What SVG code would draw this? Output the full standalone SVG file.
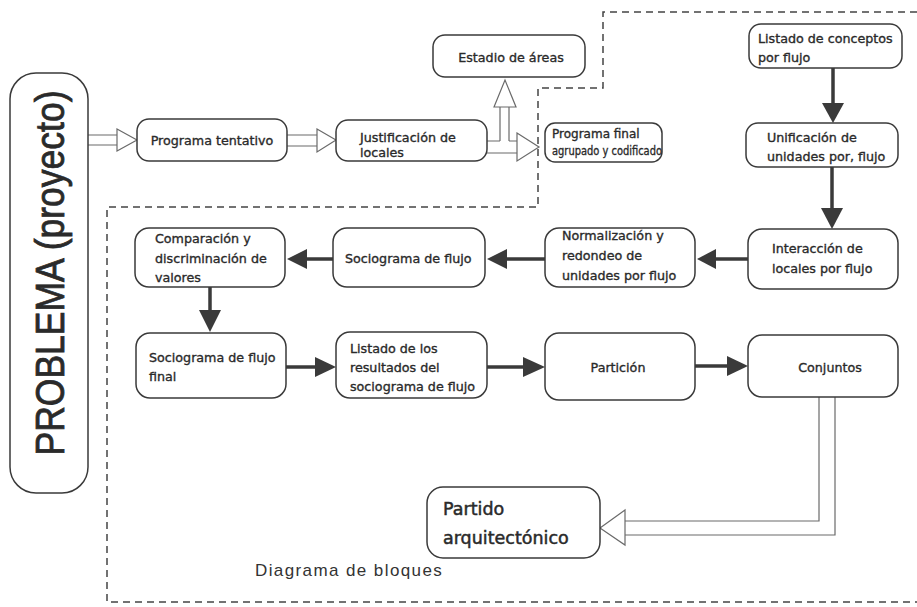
<svg xmlns="http://www.w3.org/2000/svg" width="917" height="607" viewBox="0 0 917 607">
<style>
.box{fill:#fff;stroke:#3a3a3a;stroke-width:1.5}
.t{font-family:"DejaVu Sans",Verdana,sans-serif;font-size:12.7px;fill:#2a2a2a;stroke:#2a2a2a;stroke-width:0.35}
.tc{text-anchor:middle}
.big{font-size:17.5px;stroke-width:0.5}
.sm{font-size:12px}
.sh{stroke:#3a3a3a;stroke-width:3.5;fill:none}
.hd{fill:#3a3a3a;stroke:none}
.hl{stroke:#6a6a6a;stroke-width:1.2;fill:none}
.hh{fill:#fff;stroke:#6a6a6a;stroke-width:1.2}
.dash{fill:none;stroke:#444;stroke-width:1.5;stroke-dasharray:7 5}
</style>
<rect width="917" height="607" fill="#fff"/>
<g id="boundary">
<path class="dash" d="M917,12 H603 V88 H538 V207 H107 V602 H917"/>
</g>
<g id="connectors">
<path class="hl" d="M88,135 H117 M88,145 H117"/>
<polygon class="hh" points="117,129 137,140 117,151"/>
<path class="hl" d="M287,135 H317 M287,146 H317"/>
<polygon class="hh" points="317,129 336,140 317,152"/>
<path class="hl" d="M487,141 H500 M509,141 H517 M487,153 H517 M500,141 V107 M509,141 V107"/>
<polygon class="hh" points="517,133 539,147 517,161"/>
<polygon class="hh" points="494,107 505,80 516,107"/>
<path class="hl" d="M819,397 V521 H625 M835,397 V535 H625"/>
<polygon class="hh" points="625,510 600,528 625,545"/>
<path class="sh" d="M833,68 V105"/>
<polygon class="hd" points="822,103 844,103 833,123"/>
<path class="sh" d="M832,167 V210"/>
<polygon class="hd" points="821,208 843,208 832,229"/>
<path class="sh" d="M748,259 H714"/>
<polygon class="hd" points="716,249 716,269 697,259"/>
<path class="sh" d="M545,259 H505"/>
<polygon class="hd" points="507,249 507,269 487,259"/>
<path class="sh" d="M333,259 H305"/>
<polygon class="hd" points="307,249 307,269 287,259"/>
<path class="sh" d="M210,287 V312"/>
<polygon class="hd" points="199,310 221,310 210,332"/>
<path class="sh" d="M286,367 H317"/>
<polygon class="hd" points="315,357 315,377 336,367"/>
<path class="sh" d="M487,367 H525"/>
<polygon class="hd" points="523,357 523,377 545,367"/>
<path class="sh" d="M695,366 H729"/>
<polygon class="hd" points="727,356 727,376 748,366"/>
</g>
<g id="problema">
<rect class="box" x="10" y="73" width="78" height="420" rx="26"/>
<text transform="translate(64,273) rotate(-90)" text-anchor="middle" font-family="'Liberation Sans',Arial,sans-serif" font-size="40" fill="#2a2a2a" stroke="#2a2a2a" stroke-width="0.8" textLength="365" lengthAdjust="spacingAndGlyphs">PROBLEMA (proyecto)</text>
</g>
<g id="programa-tentativo">
<rect class="box" x="137" y="119" width="150" height="42" rx="12"/>
<text class="t tc" x="212" y="145">Programa tentativo</text>
</g>
<g id="justificacion">
<rect class="box" x="336" y="120" width="151" height="41" rx="12"/>
<text class="t" x="360" y="142">Justificación de</text>
<text class="t" x="360" y="157">locales</text>
</g>
<g id="estadio">
<rect class="box" x="433" y="35" width="152" height="42" rx="12"/>
<text class="t tc" x="511" y="62">Estadio de áreas</text>
</g>
<g id="programa-final">
<rect class="box" x="545" y="123" width="117" height="39" rx="10"/>
<text class="t sm" x="552" y="138">Programa final</text>
<text class="t sm" x="552" y="155" textLength="110" lengthAdjust="spacingAndGlyphs">agrupado y codificado</text>
</g>
<g id="listado-conceptos">
<rect class="box" x="749" y="24" width="153" height="44" rx="12"/>
<text class="t" x="758" y="43">Listado de conceptos</text>
<text class="t" x="758" y="62">por flujo</text>
</g>
<g id="unificacion">
<rect class="box" x="746" y="123" width="152" height="44" rx="12"/>
<text class="t" x="767" y="142">Unificación de</text>
<text class="t" x="767" y="161">unidades por, flujo</text>
</g>
<g id="interaccion">
<rect class="box" x="748" y="229" width="150" height="60" rx="14"/>
<text class="t" x="772" y="253">Interacción de</text>
<text class="t" x="772" y="273">locales por flujo</text>
</g>
<g id="normalizacion">
<rect class="box" x="545" y="228" width="150" height="59" rx="14"/>
<text class="t" x="562" y="240">Normalización y</text>
<text class="t" x="562" y="260">redondeo de</text>
<text class="t" x="562" y="280">unidades por flujo</text>
</g>
<g id="sociograma">
<rect class="box" x="333" y="228" width="152" height="59" rx="14"/>
<text class="t" x="345" y="263">Sociograma de flujo</text>
</g>
<g id="comparacion">
<rect class="box" x="135" y="228" width="150" height="59" rx="14"/>
<text class="t" x="155" y="243">Comparación y</text>
<text class="t" x="155" y="263">discriminación de</text>
<text class="t" x="155" y="282">valores</text>
</g>
<g id="sociograma-final">
<rect class="box" x="136" y="333" width="150" height="65" rx="14"/>
<text class="t" x="149" y="362">Sociograma de flujo</text>
<text class="t" x="149" y="381">final</text>
</g>
<g id="listado-resultados">
<rect class="box" x="336" y="332" width="151" height="66" rx="14"/>
<text class="t" x="350" y="353">Listado de los</text>
<text class="t" x="350" y="372">resultados del</text>
<text class="t" x="350" y="391">sociograma de flujo</text>
</g>
<g id="particion">
<rect class="box" x="545" y="333" width="150" height="67" rx="14"/>
<text class="t tc" x="618" y="372">Partición</text>
</g>
<g id="conjuntos">
<rect class="box" x="748" y="335" width="150" height="62" rx="14"/>
<text class="t tc" x="830" y="372">Conjuntos</text>
</g>
<g id="partido">
<rect class="box" x="427" y="487" width="173" height="71" rx="16"/>
<text class="t big" x="443" y="515">Partido</text>
<text class="t big" x="443" y="544">arquitectónico</text>
</g>
<g id="caption">
<text x="255" y="576" font-family="'Liberation Sans',Arial,sans-serif" font-size="17" letter-spacing="1.4" fill="#333">Diagrama de bloques</text>
</g>
</svg>
